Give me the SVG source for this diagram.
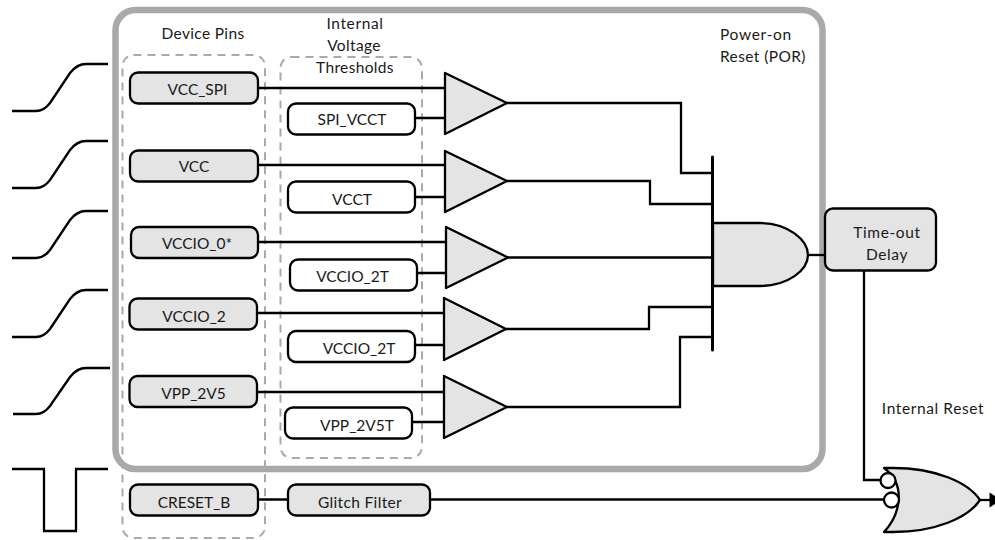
<svg xmlns="http://www.w3.org/2000/svg" width="995" height="540" viewBox="0 0 995 540">
<style>
text{font-family:"Lato","Liberation Sans",sans-serif;font-size:15.500px;fill:#1a1a1a;text-anchor:middle}
.l{letter-spacing:.35px}
.w{fill:none;stroke:#000;stroke-width:2.300}
.b{stroke:#000;stroke-width:2.300;fill:#e4e4e4;stroke-linejoin:round}
.t{stroke:#000;stroke-width:2.300;fill:#fff}
.d{fill:none;stroke:#aaa;stroke-width:2;stroke-dasharray:8 6}
</style>
<rect id="pins-group" x="122.500" y="55" width="142.500" height="483" rx="11" class="d"/>
<rect id="thresholds-group" x="280.500" y="57" width="141.500" height="401" rx="11" class="d"/>
<rect id="por-frame" x="115.500" y="10" width="707" height="459" rx="20" fill="none" stroke="#a9a9a9" stroke-width="6.500"/>
<g id="connectors" class="w">
<path d="M12 111H36Q44 111 50 103L70 73Q77 64 86 64H108"/>
<path d="M12 188H36Q44 188 50 180L70 150Q77 141 86 141H108"/>
<path d="M12 258H36Q44 258 50 250L70 220Q77 211 86 211H108"/>
<path d="M12 337H36Q44 337 50 329L70 299Q77 290 86 290H108"/>
<path d="M13 414H36Q44 414 50 406L70 377Q77 368 86 368H110"/>
<path d="M12 469H44V531H76V469H108"/>
<path d="M258 88H445M415 118H445M258 165H445M415 197H445M258 242H446M417 273H446M257 313H444M415 345H444M257 392H444M412 422H444"/>
<path d="M507 103H681V173H712"/>
<path d="M507 181H650V204H712"/>
<path d="M508 257.500H712"/>
<path d="M506 329H649V307H712"/>
<path d="M507 407H680V337H712"/>
<path d="M258 499.500H288M430 499.500H884"/>
<path d="M808 255H825"/>
<path d="M864 271V480H880"/>
<path d="M980 500H990"/>
<path d="M712.500 157V350" stroke-width="3" stroke-linecap="round"/>
<path d="M989.500 492.500L995 496V504L989.500 507.500Z" fill="#000" stroke="none"/>
</g>
<g id="comparator-1"><path class="b" d="M445 73L507 103L445 134Z"/></g>
<g id="comparator-2"><path class="b" d="M445 151L507 181L445 212Z"/></g>
<g id="comparator-3"><path class="b" d="M446 227L508 257.500L446 288Z"/></g>
<g id="comparator-4"><path class="b" d="M444 298L506 329L444 360Z"/></g>
<g id="comparator-5"><path class="b" d="M444 376L507 407L444 438Z"/></g>
<g id="and-gate"><path class="b" d="M713 223H760C788 223 808 240 808 255C808 270 788 286 760 286H713Z"/></g>
<g id="or-gate"><path class="b" d="M884 468H893C935 468 968 482 980 500C968 518 935 532 893 532H884C900 515 907 485 884 468Z"/></g>
<circle cx="888" cy="480.500" r="7.500" class="t"/>
<circle cx="891.500" cy="500" r="7.500" class="t"/>
<g id="vcc-spi"><rect x="130" y="72.500" width="128" height="31" rx="8" class="b"/><text x="197.500" y="94.500">VCC_SPI</text></g>
<g id="vcc"><rect x="130" y="150.500" width="128" height="31" rx="8" class="b"/><text x="194" y="172">VCC</text></g>
<g id="vccio-0"><rect x="131" y="227" width="127" height="31" rx="8" class="b"/><text x="197" y="249">VCCIO_0*</text></g>
<g id="vccio-2"><rect x="129.500" y="298.500" width="127.500" height="31" rx="8" class="b"/><text x="194" y="322">VCCIO_2</text></g>
<g id="vpp-2v5"><rect x="129.500" y="376" width="127.500" height="31" rx="8" class="b"/><text x="193.500" y="399">VPP_2V5</text></g>
<g id="creset-b"><rect x="130" y="484.500" width="128" height="31" rx="8" class="b"/><text x="194" y="508">CRESET_B</text></g>
<g id="glitch-filter"><rect x="288" y="484.500" width="142" height="31" rx="8" class="b"/><text x="360" y="508" class="l">Glitch Filter</text></g>
<g id="spi-vcct"><rect x="288" y="103.500" width="127" height="31" rx="8" class="t"/><text x="352" y="125">SPI_VCCT</text></g>
<g id="vcct"><rect x="288" y="181.500" width="127" height="31" rx="8" class="t"/><text x="352" y="205">VCCT</text></g>
<g id="vccio-2t-a"><rect x="290" y="259.500" width="127" height="31" rx="8" class="t"/><text x="352.500" y="281.500">VCCIO_2T</text></g>
<g id="vccio-2t-b"><rect x="288" y="331" width="127" height="31" rx="8" class="t"/><text x="359" y="354">VCCIO_2T</text></g>
<g id="vpp-2v5t"><rect x="285" y="407.500" width="127" height="31" rx="8" class="t"/><text x="357" y="431">VPP_2V5T</text></g>
<g id="time-out-delay"><rect x="825" y="208.500" width="111" height="62" rx="8" class="b"/><text x="887" y="238" style="letter-spacing:.6px">Time-out</text><text x="887" y="260" style="letter-spacing:.6px">Delay</text></g>
<text x="203" y="39" class="l">Device Pins</text>
<text x="355" y="29" style="letter-spacing:.6px">Internal</text>
<text x="354" y="51" class="l">Voltage</text>
<text x="355" y="73" class="l">Thresholds</text>
<text x="720" y="40" style="text-anchor:start;letter-spacing:.7px">Power-on</text>
<text x="720" y="62" style="text-anchor:start;letter-spacing:.4px">Reset (POR)</text>
<text x="933" y="414" style="letter-spacing:.6px">Internal Reset</text>
</svg>
